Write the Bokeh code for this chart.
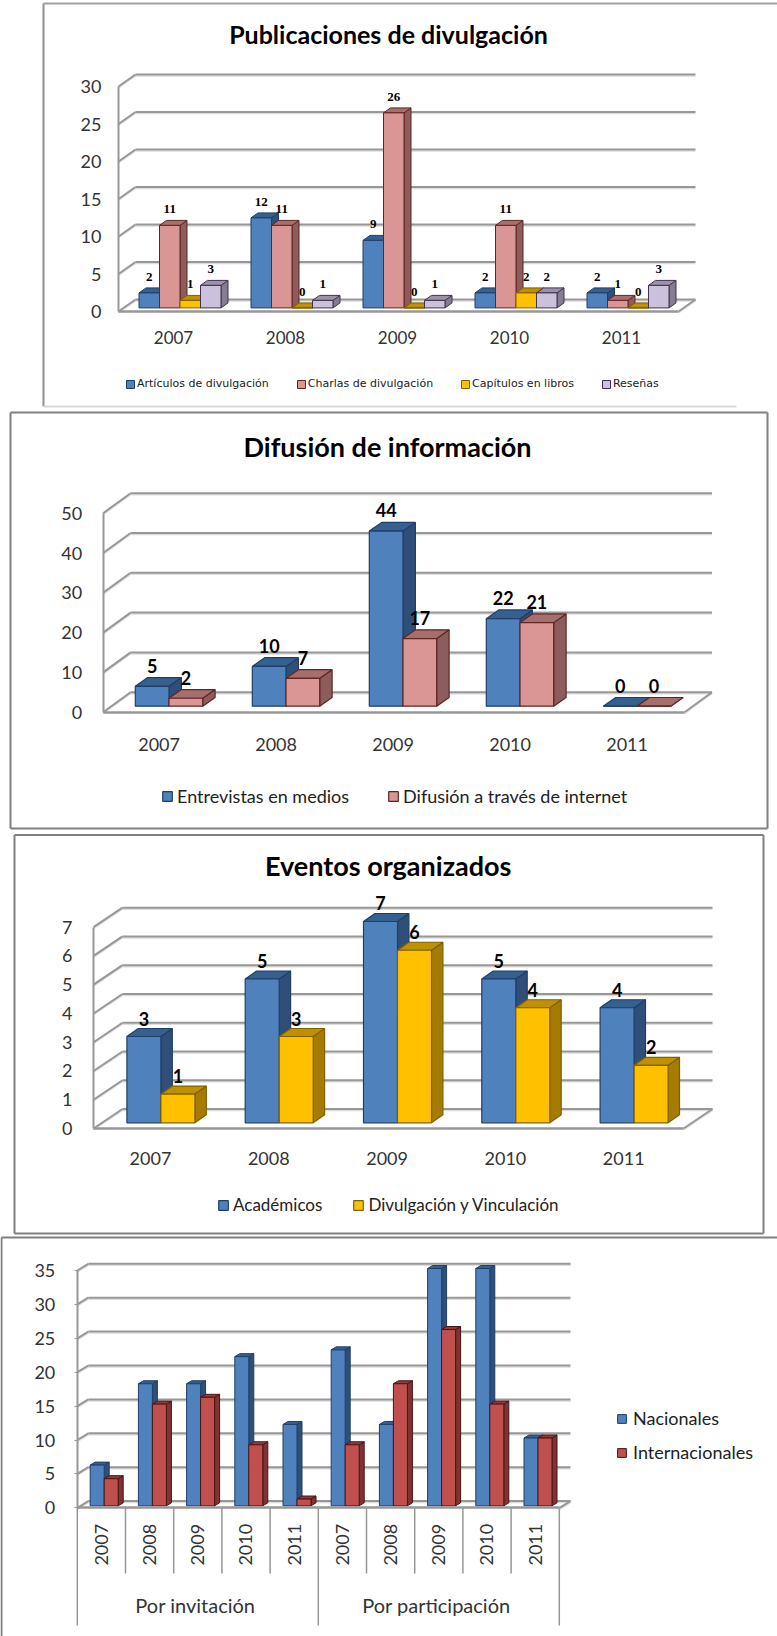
from bokeh.plotting import figure
from bokeh.layouts import column
from bokeh.models import (Range1d, LinearAxis, FixedTicker, Label, Legend, LegendItem)
from bokeh.core.properties import value
from bokeh.embed import file_html
from bokeh.resources import INLINE
import math

YEARS = ["2007", "2008", "2009", "2010", "2011"]

# Publicaciones de divulgacion
pub_articulos = [2, 12, 9, 2, 2]
pub_charlas = [11, 11, 26, 11, 1]
pub_capitulos = [1, 0, 0, 2, 0]
pub_resenas = [3, 1, 1, 2, 3]
pub_ticks = [0, 5, 10, 15, 20, 25, 30]

# Difusion de informacion
dif_entrevistas = [5, 10, 44, 22, 0]
dif_internet = [2, 7, 17, 21, 0]
dif_ticks = [0, 10, 20, 30, 40, 50]

# Eventos organizados
eve_academicos = [3, 5, 7, 5, 4]
eve_divulgacion = [1, 3, 6, 4, 2]
eve_ticks = [0, 1, 2, 3, 4, 5, 6, 7]

# Ponencias
pon_years = YEARS + YEARS
pon_groups = ["Por invitación", "Por participación"]
pon_nacionales = [6, 18, 18, 22, 12, 23, 12, 35, 35, 10]
pon_internacionales = [4, 15, 16, 9, 1, 9, 18, 26, 15, 10]
pon_ticks = [0, 5, 10, 15, 20, 25, 30, 35]

# colour: front, side, top, edge
BLUE = ("#4F81BD", "#2F4F78", "#35608F", "#1F3F68")
PINK = ("#D99694", "#8C5D5C", "#A56F6E", "#632523")
GOLD = ("#FFC000", "#A67C00", "#BF9000", "#7F6000")
LILAC = ("#CCC1DA", "#857E8E", "#9B93A7", "#403152")
RED = ("#C0504D", "#7D3432", "#943C3A", "#4A1514")
GRID = "#979797"
FONT = "Lato"


def make(top, height, cat_labels, ticks, series, g):
    pitch = g["pitch"]
    unit = g["unit"]
    cat0 = g["cat0"]
    base = g["base"]
    fx = lambda px: (px - cat0) / pitch
    fy = lambda py: (base - py) / unit
    p = figure(width=777, height=height, x_range=Range1d(fx(0), fx(777)),
               y_range=Range1d(fy(top + height), fy(top)),
               x_axis_location=None, y_axis_location=None,
               toolbar_location=None, output_backend="svg",
               min_border=0, outline_line_color=None, tools="")
    p.grid.visible = False

    # wall and floor
    ddx, ddy = g["ddx"], g["ddy"]
    ax = g["axis_x"]
    rx = g["right_x"]
    xs0, ys0, xs1, ys1 = [], [], [], []
    for t in ticks:
        # diagonal on the left wall, then the line along the back wall
        xs0 += [fx(ax), fx(ax + ddx)]
        ys0 += [t, t + ddy / unit]
        xs1 += [fx(ax + ddx), fx(rx + ddx)]
        ys1 += [t + ddy / unit, t + ddy / unit]
    xs0.append(fx(rx)); ys0.append(0); xs1.append(fx(rx + ddx)); ys1.append(ddy / unit)
    shadow = 1.5 / unit
    p.segment(xs0, [y - shadow for y in ys0], xs1, [y - shadow for y in ys1],
              line_color="#DDDDDD", line_width=1.5)
    p.segment(xs0, ys0, xs1, ys1, line_color=GRID, line_width=g.get("grid_w", 2))

    # bars
    items = []
    n = len(cat_labels)
    lift = g["bar_lift"] / unit
    b_dx, b_dy = g["bar_dx"] / pitch, g["bar_dy"] / unit
    bw = g["bw"] / pitch
    start = fx(g["bar0"])
    for j, (name, vals, col) in enumerate(series):
        lefts = [i + start + j * bw for i in range(n)]
        rights = [l + bw for l in lefts]
        tops = [v + lift for v in vals]
        side_x = [[r, r + b_dx, r + b_dx, r] for r in rights]
        side_y = [[lift, lift + b_dy, t + b_dy, t] for t in tops]
        top_x = [[l, r, r + b_dx, l + b_dx] for l, r in zip(lefts, rights)]
        top_y = [[t, t, t + b_dy, t + b_dy] for t in tops]
        lw = g.get("edge_w", 1.2)
        p.patches(side_x, side_y, fill_color=col[1], line_color=col[3], line_width=lw)
        p.patches(top_x, top_y, fill_color=col[2], line_color=col[3], line_width=lw)
        r = p.quad(left=lefts, right=rights, bottom=[lift] * n, top=tops,
                   fill_color=col[0], line_color=col[3], line_width=lw)
        items.append(LegendItem(label=name, renderers=[r]))

    # data labels, over every bar
    if g.get("label_size"):
        for j, (name, vals, col) in enumerate(series):
            xs = [i + start + (j + 0.5) * bw for i in range(n)]
            ys = [v + lift for v in vals]
            p.text(xs, ys, text=[str(v) for v in vals], y_offset=-g["label_up"],
                   text_align="center", text_baseline="middle",
                   text_font=value(g["label_font"]), text_font_style="bold",
                   text_font_size=g["label_size"], text_color="#000000")

    # axes
    tick_size = g.get("tick_size", "18px")
    yax = LinearAxis(fixed_location=fx(ax), ticker=FixedTicker(ticks=ticks),
                     bounds=(0, max(ticks)),
                     axis_line_color=GRID, axis_line_width=2,
                     major_tick_line_color=GRID, major_tick_in=0,
                     major_tick_out=g.get("ytick", 0), minor_tick_line_color=None,
                     major_label_standoff=g["y_standoff"],
                     major_label_text_font=FONT, major_label_text_font_size=tick_size,
                     major_label_text_color="#333333")
    p.add_layout(yax, "left")
    xax = LinearAxis(fixed_location=0, ticker=FixedTicker(ticks=list(range(n))),
                     major_label_overrides={i: c for i, c in enumerate(cat_labels)},
                     bounds=(fx(ax), fx(rx)),
                     axis_line_color=GRID, axis_line_width=2.5,
                     major_tick_line_color=None, minor_tick_line_color=None,
                     major_label_standoff=g["x_standoff"],
                     major_label_text_font=FONT,
                     major_label_text_font_size=g.get("cat_size", tick_size),
                     major_label_text_color="#333333")
    if g.get("cat_vertical"):
        xax.major_label_orientation = math.pi / 2
    p.add_layout(xax, "below")

    # frame of the picture
    for (x0, y0, x1, y1, c, w) in g["frame"]:
        p.segment([fx(x0)], [fy(y0)], [fx(x1)], [fy(y1)], line_color=c, line_width=w)

    # title
    if g.get("title"):
        p.add_layout(Label(x=fx(g["title_x"]), y=fy(g["title_y"]), text=g["title"],
                           text_align="center", text_baseline="middle",
                           text_font=FONT, text_font_style="bold",
                           text_font_size=g["title_size"], text_color="#000000"))

    # legend
    leg = Legend(items=items, orientation=g.get("leg_orient", "horizontal"),
                 location=g["leg_loc"], border_line_color=None,
                 background_fill_alpha=0, padding=0, margin=0,
                 spacing=g["leg_space"], glyph_width=g["leg_glyph"], glyph_height=g["leg_glyph"],
                 label_standoff=g["leg_standoff"], label_text_font=g.get("leg_font", FONT),
                 label_text_font_size=g["leg_size"], label_text_color="#222222")
    p.add_layout(leg, "center")
    return p, fx, fy


p1, _, _ = make(0, 409, YEARS, pub_ticks, [
    ("Artículos de divulgación", pub_articulos, BLUE),
    ("Charlas de divulgación", pub_charlas, PINK),
    ("Capítulos en libros", pub_capitulos, GOLD),
    ("Reseñas", pub_resenas, LILAC)],
    dict(pitch=112, unit=7.5, cat0=173, base=311, ddx=17, ddy=12, axis_x=118, right_x=678,
         bar_lift=3.6, bar_dx=7, bar_dy=5, bw=20.5, bar0=138.5, edge_w=1,
         label_size="13px", label_up=16, label_font="Liberation Serif",
         y_standoff=17, x_standoff=13, cat_size="17px",
         frame=[(43, 3, 777, 3, "#A0A0A0", 2), (43, 3, 43, 406, "#909090", 2),
                (43, 406, 736, 406, "#D9D9D9", 2)],
         title="Publicaciones de divulgación", title_x=388, title_y=33, title_size="25px",
         leg_loc=(125, 19), leg_space=27, leg_glyph=10, leg_standoff=2,
         leg_size="11px", leg_font="DejaVu Sans"))

p2, _, _ = make(409, 421, YEARS, dif_ticks, [
    ("Entrevistas en medios", dif_entrevistas, BLUE),
    ("Difusión a través de internet", dif_internet, PINK)],
    dict(pitch=117, unit=3.98, cat0=158.6, base=711.7, ddx=27.5, ddy=20, axis_x=102.6, right_x=684,
         bar_lift=6, bar_dx=12.4, bar_dy=8.7, bw=33.7, bar0=134.8,
         label_size="18px", label_up=20.6, label_font=FONT,
         y_standoff=21, x_standoff=20,
         frame=[(10, 412, 767, 412, "#808080", 2), (10, 412, 10, 828, "#808080", 2),
                (767, 412, 767, 828, "#808080", 2), (10, 828, 767, 828, "#808080", 2)],
         title="Difusión de información", title_x=387, title_y=446, title_size="27px",
         leg_loc=(161, 23), leg_space=38, leg_glyph=12, leg_standoff=4, leg_size="18px"))

p3, _, _ = make(830, 405, YEARS, eve_ticks, [
    ("Académicos", eve_academicos, BLUE),
    ("Divulgación y Vinculación", eve_divulgacion, GOLD)],
    dict(pitch=118.3, unit=28.76, cat0=150, base=1128, ddx=29, ddy=19.5, axis_x=93, right_x=683,
         bar_lift=5.7, bar_dx=11.4, bar_dy=8, bw=34, bar0=126.4,
         label_size="18px", label_up=18, label_font=FONT,
         y_standoff=21, x_standoff=17,
         frame=[(14, 834.4, 763, 834.4, "#808080", 2), (14, 834.4, 14, 1233, "#808080", 2),
                (763, 834.4, 763, 1233, "#808080", 2), (14, 1233, 763, 1233, "#808080", 2)],
         title="Eventos organizados", title_x=387.7, title_y=865, title_size="27px",
         leg_loc=(217, 20), leg_space=30, leg_glyph=12, leg_standoff=4, leg_size="17px"))

p4, fx4, fy4 = make(1235, 401, pon_years, pon_ticks, [
    ("Nacionales", pon_nacionales, BLUE),
    ("Internacionales", pon_internacionales, RED)],
    dict(pitch=48.2, unit=6.78, cat0=100.9, base=1507.3, ddx=11, ddy=6.7, axis_x=76.8, right_x=559,
         bar_lift=2, bar_dx=5, bar_dy=3, bw=14, bar0=89.7, edge_w=1,
         y_standoff=19, x_standoff=10, ytick=3, cat_vertical=True, cat_size="18px",
         frame=[(1, 1237, 777, 1237, "#808080", 2), (1, 1237, 1, 1636, "#808080", 2)],
         leg_loc=(616, 173), leg_orient="vertical", leg_space=12, leg_glyph=11,
         leg_standoff=6, leg_size="18px"))

# two-level category axis of the last chart
cell = [i - 0.5 for i in range(len(pon_years) + 1)]
p4.segment(cell, [0] * len(cell), cell,
           [fy4(1625) if i % 5 == 0 else fy4(1573) for i in range(len(cell))],
           line_color=GRID, line_width=1.5)
for k, name in enumerate(pon_groups):
    p4.add_layout(Label(x=1.95 + 5 * k, y=fy4(1604), text=name, text_align="center",
                        text_baseline="middle", text_font=FONT, text_font_size="20px",
                        text_color="#333333"))

page = column(p1, p2, p3, p4, spacing=0)
open("out.html", "w").write(file_html(page, INLINE))
